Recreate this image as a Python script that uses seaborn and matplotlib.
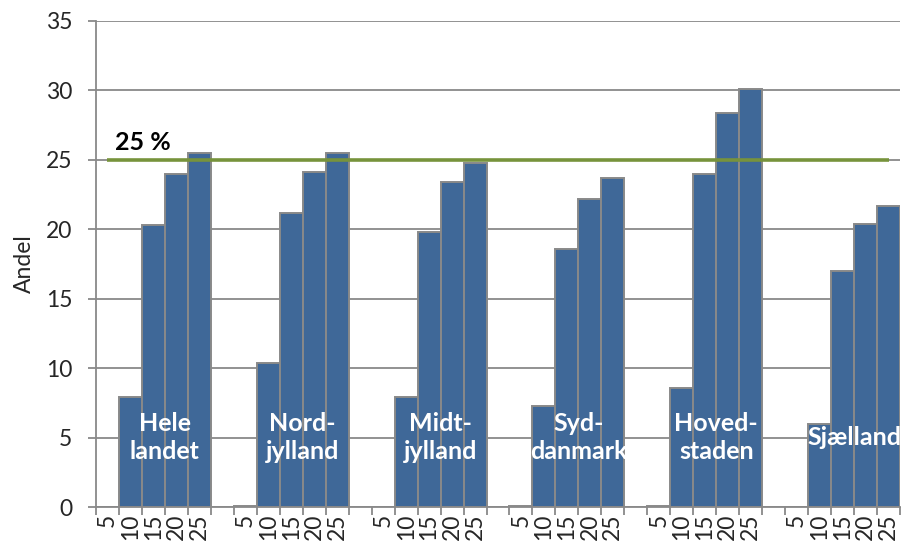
"""
Andel pr. region og størrelse - søjlediagram med 25 %-linje
"""

import numpy as np
import pandas as pd
import matplotlib
matplotlib.use("Agg")
import matplotlib.pyplot as plt
import seaborn as sns

# ---------------------------------------------------------------------------
# DATA
# ---------------------------------------------------------------------------

regions = ["Hele landet", "Nordjylland", "Midtjylland", "Syddanmark", "Hovedstaden", "Sjælland"]
region_labels = ["Hele\nlandet", "Nord-\njylland", "Midt-\njylland", "Syd-\ndanmark", "Hoved-\nstaden", "Sjælland"]
sizes = ["5", "10", "15", "20", "25"]

hele_landet = [0.0, 7.9, 20.3, 24.0, 25.5]
nordjylland = [0.1, 10.4, 21.2, 24.1, 25.5]
midtjylland = [0.0, 7.9, 19.8, 23.4, 24.8]
syddanmark = [0.1, 7.3, 18.6, 22.2, 23.7]
hovedstaden = [0.1, 8.6, 24.0, 28.4, 30.1]
sjaelland = [0.0, 6.0, 17.0, 20.4, 21.7]

threshold = 25
threshold_label = "25 %"

# ---------------------------------------------------------------------------
# TABEL
# ---------------------------------------------------------------------------

series = [hele_landet, nordjylland, midtjylland, syddanmark, hovedstaden, sjaelland]
step = len(sizes) + 1  # en tom plads mellem regionerne
n_slots = len(regions) * step - 1

rows = []
for i, (reg, vals) in enumerate(zip(regions, series)):
    for j, (s, v) in enumerate(zip(sizes, vals)):
        rows.append({"slot": i * step + j, "region": reg, "str": s, "andel": v})
df = pd.DataFrame(rows)

tick_labels = [""] * n_slots
for _, r in df.iterrows():
    tick_labels[r["slot"]] = r["str"]

# ---------------------------------------------------------------------------
# FIGUR
# ---------------------------------------------------------------------------

sns.set_style("white")
plt.rcParams["font.family"] = ["Lato", "DejaVu Sans"]

GRAY = "#898989"
BLUE = "#3F6898"
GREEN = "#77933C"

fig = plt.figure(figsize=(9.03, 5.48), dpi=100)
ax = fig.add_axes([0.1063, 0.0748, 0.8904, 0.8869])

ax.set_axisbelow(True)
ax.yaxis.grid(True, color=GRAY, linewidth=1.3)

sns.barplot(
    data=df, x="slot", y="andel", order=list(range(n_slots)),
    color=BLUE, saturation=1, width=1.0, errorbar=None,
    edgecolor=GRAY, linewidth=1.4, ax=ax, zorder=2,
)

# 25 %-linje fra første til sidste kategori
ax.hlines(threshold, 0, n_slots - 1, color=GREEN, linewidth=2.6, zorder=3)
ax.text(0.33, threshold + 0.4, threshold_label, fontsize=18, fontweight="bold",
        ha="left", va="bottom", color="black")

# regionsnavne inde i søjlerne
for i, lab in enumerate(region_labels):
    ax.text(i * step + 2.5, 5.0, lab, color="white", fontsize=18,
            fontweight="bold", ha="center", va="center", linespacing=1.3, zorder=4)

ax.set_xlim(-0.5, n_slots - 0.5)
ax.set_ylim(0, 35)
ax.set_yticks(np.arange(0, 36, 5))
ax.set_xticks(range(n_slots))
ax.set_xticklabels(tick_labels, rotation=90, fontsize=16.5)
ax.set_xticks(np.arange(-0.5, n_slots, 1), minor=True)
ax.tick_params(axis="x", which="major", length=0, pad=5)
ax.tick_params(axis="x", which="minor", length=6, width=1.3, color=GRAY, direction="out")
ax.tick_params(axis="y", length=6, width=1.3, color=GRAY, direction="out", labelsize=16.5, pad=11)
ax.yaxis.set_ticks_position("left")
ax.xaxis.set_ticks_position("bottom")

ax.set_xlabel("")
ax.set_ylabel("Andel", fontsize=16.5, labelpad=8)

for side in ["top", "right"]:
    ax.spines[side].set_visible(False)
for side in ["left", "bottom"]:
    ax.spines[side].set_color(GRAY)
    ax.spines[side].set_linewidth(1.3)

fig.savefig("out.png", dpi=100)
